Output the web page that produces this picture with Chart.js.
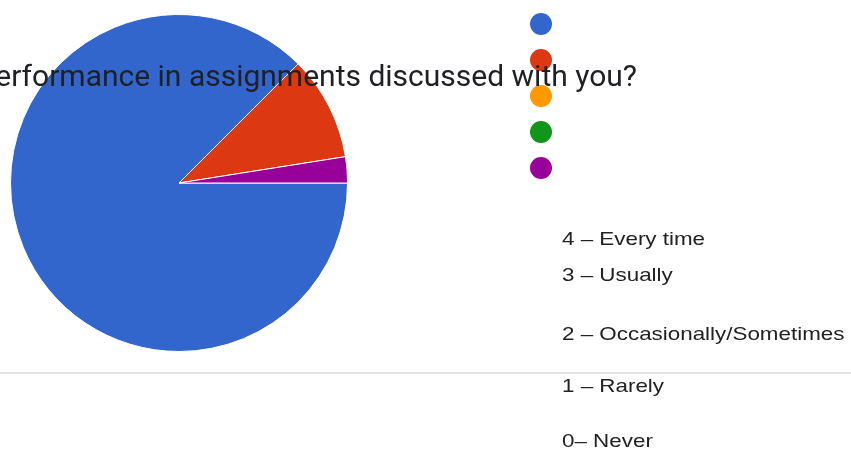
<!DOCTYPE html>
<html>
<head>
<meta charset="utf-8">
<script src="https://cdn.jsdelivr.net/npm/chart.js@4/dist/chart.umd.min.js"></script>
<style>
  html, body { margin: 0; padding: 0; background: #fff; }
  #wrap { position: relative; width: 851px; height: 452px; overflow: hidden; }
  #chart { position: absolute; left: 0; top: 0; }
  .title {
    position: absolute; right: 214px; top: 58px; white-space: nowrap;
    font-family: Roboto, sans-serif; font-size: 30px; color: #202124; line-height: 36px;
  }
  .lbl {
    position: absolute; left: 562px; white-space: nowrap;
    font-family: "Liberation Sans", Arial, sans-serif; font-size: 18.5px; color: #222; line-height: 22px;
    transform: scaleX(1.21); transform-origin: 0 50%;
  }
  .rule { position: absolute; left: 0; top: 372px; width: 851px; height: 2px; background: #e0e1e4; }
</style>
</head>
<body>
<div id="wrap">
  <canvas id="chart" width="851" height="452"></canvas>
  <div class="rule"></div>
  <div class="title">erformance in assignments discussed with you?</div>
</div>
<script>
// answers in Google Forms order
const labels = ['4 – Every time', '3 – Usually', '2 – Occasionally/Sometimes', '1 – Rarely', '0– Never'];
const counts = [35, 4, 0, 0, 1];
const colors = ['#3366cc', '#dc3912', '#ff9900', '#109618', '#990099'];

// where the (detached) legend pieces sit on the page
const dotX = 541, dotTop = 24, dotStep = 36, dotR = 11;
const labelTops = [228, 264, 323, 375, 430];

// labels as plain html text
const wrap = document.getElementById('wrap');
labels.forEach((txt, i) => {
  const d = document.createElement('div');
  d.className = 'lbl';
  d.style.top = labelTops[i] + 'px';
  d.textContent = txt;
  wrap.appendChild(d);
});

// the coloured legend dots, one per answer
const dotLegend = {
  id: 'dotLegend',
  afterDraw(chart) {
    const ctx = chart.ctx;
    const bg = chart.data.datasets[0].backgroundColor;
    ctx.save();
    chart.data.labels.forEach((l, i) => {
      ctx.beginPath();
      ctx.arc(dotX, dotTop + i * dotStep, dotR, 0, Math.PI * 2);
      ctx.fillStyle = bg[i];
      ctx.fill();
    });
    ctx.restore();
  }
};

new Chart(document.getElementById('chart'), {
  type: 'pie',
  data: {
    labels: labels,
    datasets: [{
      data: counts,
      backgroundColor: colors,
      borderColor: '#ffffff',
      borderWidth: 1,
      hoverOffset: 0
    }]
  },
  options: {
    responsive: false,
    animation: false,
    rotation: 90,
    layout: { padding: { left: 10, right: 503, top: 14, bottom: 100 } },
    plugins: {
      legend: { display: false },
      tooltip: { enabled: false }
    }
  },
  plugins: [dotLegend]
});
</script>
</body>
</html>
